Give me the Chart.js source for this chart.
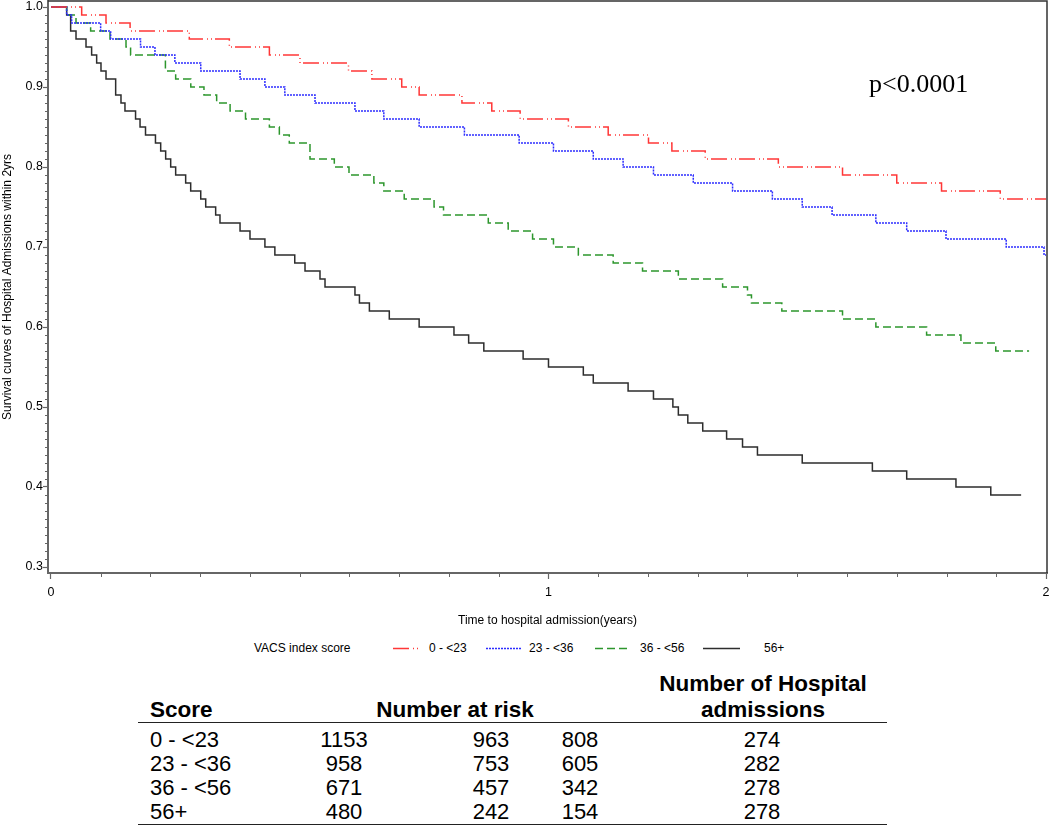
<!DOCTYPE html>
<html>
<head>
<meta charset="utf-8">
<script src="https://cdn.jsdelivr.net/npm/chart.js@4.4.1/dist/chart.umd.min.js"></script>
<style>
  body { margin: 0; background: #fff; font-family: "Liberation Sans", Arial, sans-serif; }
  #page { position: relative; width: 1050px; height: 840px; overflow: hidden; background: #fff; }
  #plot { position: absolute; left: 0; top: 0; width: 1050px; height: 635px; }
  .t { position: absolute; line-height: 1; white-space: nowrap; color: #000; }
  .c { transform: translateX(-50%); }
  .b { font-weight: bold; }
  .rule { position: absolute; left: 138px; width: 749px; height: 0; border-top: 1.5px solid #222; }
</style>
</head>
<body>
<div id="page">
  <div id="plot"><canvas id="km"></canvas></div>
  <div class="t" style="left:869px; top:71px; font-family:'Liberation Serif','Times New Roman',serif; font-size:26px;">p&lt;0.0001</div>
  <svg id="legendLines" width="1050" height="20" style="position:absolute; left:0; top:638px;"></svg>
  <div id="legend"></div>
  <div id="table"></div>
</div>
<script>
// groups
const groups = ["0 - <23", "23 - <36", "36 - <56", "56+"]
const legendTitle = "VACS index score"
const xTitle = "Time to hospital admission(years)"
const yTitle = "Survival curves of Hospital Admissions within 2yrs"

// KM steps: time (years) where the curve drops, value after the drop
const t0 = [0, 0.0617, 0.1106, 0.159, 0.278, 0.3585, 0.439, 0.5005, 0.598, 0.645, 0.705, 0.740, 0.826, 0.886, 0.943, 1.040, 1.120, 1.201, 1.248, 1.315, 1.462, 1.591, 1.700, 1.790, 1.908, 2.000]
const s0 = [1.00, 0.99, 0.98, 0.97, 0.96, 0.95, 0.94, 0.93, 0.92, 0.91, 0.90, 0.89, 0.88, 0.87, 0.86, 0.85, 0.84, 0.83, 0.82, 0.81, 0.80, 0.79, 0.78, 0.77, 0.76, 0.76]

const t23 = [0, 0.0315, 0.0415, 0.0998, 0.120, 0.180, 0.209, 0.249, 0.301, 0.380, 0.430, 0.470, 0.5307, 0.611, 0.669, 0.740, 0.831, 0.941, 1.010, 1.090, 1.150, 1.211, 1.291, 1.370, 1.450, 1.510, 1.570, 1.658, 1.720, 1.799, 1.920, 1.996, 2.000]
const s23 = [1.00, 0.99, 0.98, 0.97, 0.96, 0.95, 0.94, 0.93, 0.92, 0.91, 0.90, 0.89, 0.88, 0.87, 0.86, 0.85, 0.84, 0.83, 0.82, 0.81, 0.80, 0.79, 0.78, 0.77, 0.76, 0.75, 0.74, 0.73, 0.72, 0.71, 0.70, 0.69, 0.69]

const t36 = [0, 0.0315, 0.0503, 0.0797, 0.1186, 0.1508, 0.160, 0.230, 0.2506, 0.281, 0.3075, 0.333, 0.360, 0.391, 0.439, 0.459, 0.479, 0.5206, 0.5695, 0.599, 0.649, 0.669, 0.710, 0.770, 0.789, 0.879, 0.919, 0.968, 1.010, 1.060, 1.130, 1.189, 1.261, 1.350, 1.400, 1.408, 1.469, 1.591, 1.658, 1.760, 1.829, 1.899, 1.966]
const s36 = [1.00, 0.99, 0.98, 0.97, 0.96, 0.95, 0.94, 0.92, 0.91, 0.90, 0.89, 0.88, 0.87, 0.86, 0.85, 0.84, 0.83, 0.81, 0.80, 0.79, 0.78, 0.77, 0.76, 0.75, 0.74, 0.73, 0.72, 0.71, 0.70, 0.69, 0.68, 0.67, 0.66, 0.65, 0.64, 0.63, 0.62, 0.61, 0.60, 0.59, 0.58, 0.57, 0.57]

const t56 = [0, 0.0315, 0.0395, 0.0503, 0.0704, 0.0817, 0.0918, 0.1005, 0.1106, 0.130, 0.1407, 0.1487, 0.170, 0.179, 0.190, 0.210, 0.2205, 0.2305, 0.2406, 0.2506, 0.2707, 0.2808, 0.301, 0.311, 0.331, 0.3397, 0.380, 0.400, 0.430, 0.450, 0.490, 0.5106, 0.5407, 0.5508, 0.611, 0.620, 0.640, 0.680, 0.740, 0.810, 0.8395, 0.870, 0.949, 1.000, 1.070, 1.090, 1.160, 1.211, 1.250, 1.261, 1.280, 1.310, 1.358, 1.390, 1.420, 1.510, 1.651, 1.720, 1.819, 1.889, 1.950]
const s56 = [1.00, 0.99, 0.97, 0.96, 0.95, 0.94, 0.93, 0.92, 0.91, 0.89, 0.88, 0.87, 0.86, 0.85, 0.84, 0.83, 0.82, 0.81, 0.80, 0.79, 0.78, 0.77, 0.76, 0.75, 0.74, 0.73, 0.72, 0.71, 0.70, 0.69, 0.68, 0.67, 0.66, 0.65, 0.64, 0.63, 0.62, 0.61, 0.60, 0.59, 0.58, 0.57, 0.56, 0.55, 0.54, 0.53, 0.52, 0.51, 0.50, 0.49, 0.48, 0.47, 0.46, 0.45, 0.44, 0.43, 0.42, 0.41, 0.40, 0.39, 0.39]

// table under the chart
const tableHead = ["Score", "Number at risk", "Number of Hospital", "admissions"]
const atRisk1 = [1153, 958, 671, 480]
const atRisk2 = [963, 753, 457, 242]
const atRisk3 = [808, 605, 342, 154]
const admissions = [274, 282, 278, 278]

const times = [t0, t23, t36, t56]
const surv = [s0, s23, s36, s56]
const colors = ["rgb(255,55,55)", "rgb(45,45,255)", "rgb(45,150,45)", "rgb(45,45,45)"]
const dashes = [[16, 4, 1, 3, 1, 3], [2, 1], [8, 4], []]

Chart.defaults.font.family = '"Liberation Sans", Arial, sans-serif'
Chart.defaults.color = "#000"

const frameAndMinor = {
    id: "frameAndMinor",
    afterDraw(chart) {
        const { ctx, chartArea: a, scales } = chart
        ctx.save()
        ctx.strokeStyle = "#666"
        ctx.lineWidth = 1
        ctx.beginPath()
        for (let i = 30; i <= 100; i++) {
            if (i % 10 == 0) continue
            let py = Math.round(scales.y.getPixelForValue(i / 100)) + 0.5
            ctx.moveTo(a.left - 3, py)
            ctx.lineTo(a.left, py)
        }
        for (let i = 1; i < 20; i++) {
            if (i % 10 == 0) continue
            let px = Math.round(scales.x.getPixelForValue(i / 10)) + 0.5
            ctx.moveTo(px, a.bottom)
            ctx.lineTo(px, a.bottom + 4)
        }
        ctx.stroke()
        ctx.strokeStyle = "#333"
        ctx.lineWidth = 1.5
        ctx.beginPath()
        ctx.moveTo(a.left, a.top)
        ctx.lineTo(a.right, a.top)
        ctx.lineTo(a.right, a.bottom)
        ctx.stroke()
        ctx.restore()
    }
}

new Chart("km", {
    type: "line",
    data: {
        datasets: groups.map((g, k) => ({
            label: g,
            data: times[k].map((x, i) => ({ x: x, y: surv[k][i] })),
            borderColor: colors[k],
            borderWidth: 1.5,
            borderDash: dashes[k],
            stepped: "before",
            pointRadius: 0,
            fill: false
        }))
    },
    options: {
        responsive: true,
        maintainAspectRatio: false,
        animation: false,
        layout: { padding: { top: 1, right: 3, left: 0, bottom: 0 } },
        plugins: { legend: { display: false }, tooltip: { enabled: false } },
        scales: {
            x: {
                type: "linear",
                min: -0.006,
                max: 2.002,
                ticks: { stepSize: 1, includeBounds: false, padding: 6.5, font: { size: 12.5 }, maxRotation: 0, callback: v => String(v) },
                grid: { drawOnChartArea: false, tickLength: 6, tickColor: "#666", tickWidth: 1.2 },
                border: { color: "#666", width: 2 },
                title: { display: true, text: xTitle, font: { size: 12 }, padding: { top: 0, bottom: 7 } },
                afterFit: s => { s.height = 62; s.paddingLeft = 0; s.paddingRight = 0 }
            },
            y: {
                type: "linear",
                min: 0.2925,
                max: 1.0075,
                ticks: { stepSize: 0.1, includeBounds: false, padding: 0, font: { size: 12.5 }, callback: v => v.toFixed(1) },
                grid: { drawOnChartArea: false, tickLength: 5, tickColor: "#666", tickWidth: 1.2 },
                border: { color: "#666", width: 2 },
                title: { display: true, text: yTitle, font: { size: 12 }, padding: { top: 0, bottom: 0 } },
                afterFit: s => { s.width = 48; s.paddingTop = 0; s.paddingBottom = 0 }
            }
        }
    },
    plugins: [frameAndMinor]
})

// legend
const legendLineX = [393, 486, 595, 703]
const legendLineLen = [28, 36, 36, 37]
const legendTextX = [429, 529, 640, 764]
let svg = document.getElementById("legendLines")
let lg = document.getElementById("legend")
let html = '<div class="t" style="left:254px; top:642px; font-size:12px;">' + legendTitle.replace(/</g, "&lt;") + '</div>'
let lines = ""
groups.forEach((g, k) => {
    lines += '<line x1="' + legendLineX[k] + '" x2="' + (legendLineX[k] + legendLineLen[k]) + '" y1="10.5" y2="10.5" stroke="' + colors[k] +
        '" stroke-width="1.5" stroke-dasharray="' + (dashes[k].length ? dashes[k].join(" ") : "none") + '"/>'
    html += '<div class="t" style="left:' + legendTextX[k] + 'px; top:642px; font-size:12px;">' + g.replace(/</g, "&lt;") + '</div>'
})
svg.innerHTML = lines
lg.innerHTML = html

// table
let tb = '<div class="t b" style="left:150px; top:699px; font-size:22.5px;">' + tableHead[0] + '</div>'
tb += '<div class="t b c" style="left:455px; top:699px; font-size:22.5px;">' + tableHead[1] + '</div>'
tb += '<div class="t b c" style="left:763px; top:673px; font-size:22.5px;">' + tableHead[2] + '</div>'
tb += '<div class="t b c" style="left:763px; top:699px; font-size:22.5px;">' + tableHead[3] + '</div>'
tb += '<div class="rule" style="top:721.5px;"></div>'
const rowTop = [729.3, 753.3, 776.8, 800.8]
const colX = [344, 491, 580, 762]
groups.forEach((g, r) => {
    tb += '<div class="t" style="left:150px; top:' + rowTop[r] + 'px; font-size:22px;">' + g.replace(/</g, "&lt;") + '</div>'
    let vals = [atRisk1[r], atRisk2[r], atRisk3[r], admissions[r]]
    vals.forEach((v, c) => {
        tb += '<div class="t c" style="left:' + colX[c] + 'px; top:' + rowTop[r] + 'px; font-size:22px;">' + v + '</div>'
    })
})
tb += '<div class="rule" style="top:824px;"></div>'
document.getElementById("table").innerHTML = tb
</script>
</body>
</html>
